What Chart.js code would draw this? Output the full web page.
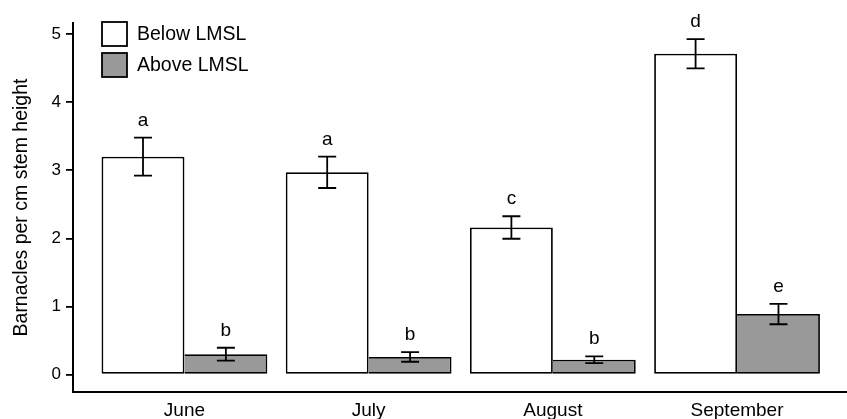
<!DOCTYPE html>
<html>
<head>
<meta charset="utf-8">
<script src="https://cdn.jsdelivr.net/npm/chart.js@4.4.1/dist/chart.umd.min.js"></script>
<style>
html,body{margin:0;padding:0;background:#fff;}
#wrap{width:847px;height:419px;position:relative;}
</style>
</head>
<body>
<div id="wrap"><canvas id="c"></canvas></div>
<script>
// ---- data ----
const months = ['June', 'July', 'August', 'September'];
const seriesNames = ['Below LMSL', 'Above LMSL'];
const below = [3.20, 2.97, 2.16, 4.71];
const belowErr = [0.28, 0.23, 0.165, 0.215];
const above = [0.30, 0.26, 0.22, 0.89];
const aboveErr = [0.095, 0.07, 0.05, 0.15];
const belowLetters = ['a', 'a', 'c', 'd'];
const aboveLetters = ['b', 'b', 'b', 'e'];
const yTicks = [0, 1, 2, 3, 4, 5];

const FONT = "'Liberation Sans', Arial, Helvetica, sans-serif";
Chart.defaults.font.family = FONT;
Chart.defaults.color = '#000';

const errorBars = {
  id: 'errorBars',
  afterDatasetsDraw(chart) {
    const ctx = chart.ctx, y = chart.scales.y;
    const sets = [[below, belowErr, belowLetters], [above, aboveErr, aboveLetters]];
    ctx.save();
    ctx.strokeStyle = '#000';
    ctx.fillStyle = '#000';
    ctx.lineWidth = 1.8;
    ctx.font = '19px ' + FONT;
    ctx.textAlign = 'center';
    ctx.textBaseline = 'alphabetic';
    sets.forEach((s, di) => {
      const meta = chart.getDatasetMeta(di);
      meta.data.forEach((bar, i) => {
        const x = bar.x;
        const top = y.getPixelForValue(s[0][i] + s[1][i]);
        const bot = y.getPixelForValue(s[0][i] - s[1][i]);
        ctx.beginPath();
        ctx.moveTo(x, top); ctx.lineTo(x, bot);
        ctx.moveTo(x - 9, top); ctx.lineTo(x + 9, top);
        ctx.moveTo(x - 9, bot); ctx.lineTo(x + 9, bot);
        ctx.stroke();
        ctx.fillText(s[2][i], x, top - 12);
      });
    });
    ctx.restore();
  }
};

const boxLegend = {
  id: 'boxLegend',
  afterDraw(chart) {
    const ctx = chart.ctx;
    ctx.save();
    ctx.font = '19.5px ' + FONT;
    ctx.textAlign = 'left';
    ctx.textBaseline = 'middle';
    chart.data.datasets.forEach((ds, i) => {
      const bx = 102, by = 22 + i * 31;
      ctx.fillStyle = ds.backgroundColor;
      ctx.fillRect(bx, by, 25, 24);
      ctx.strokeStyle = '#000';
      ctx.lineWidth = 1.8;
      ctx.strokeRect(bx, by, 25, 24);
      ctx.fillStyle = '#000';
      ctx.fillText(ds.label, 137, by + 13);
    });
    ctx.restore();
  }
};

new Chart(document.getElementById('c'), {
  type: 'bar',
  data: {
    datasets: [
      {
        label: seriesNames[0],
        data: months.map((m, i) => ({ x: i, y: below[i] })),
        backgroundColor: '#ffffff',
        borderColor: '#000',
        borderWidth: 1.8,
        borderSkipped: false,
        categoryPercentage: 0.9,
        barPercentage: 1.0
      },
      {
        label: seriesNames[1],
        data: months.map((m, i) => ({ x: i, y: above[i] })),
        backgroundColor: '#999999',
        borderColor: '#000',
        borderWidth: { top: 1.8, right: 1.8, bottom: 1.8, left: 0 },
        borderSkipped: false,
        categoryPercentage: 0.9,
        barPercentage: 1.0
      }
    ]
  },
  options: {
    responsive: true,
    maintainAspectRatio: false,
    animation: false,
    layout: { padding: { top: 23, right: 0, left: 0, bottom: 0 } },
    plugins: { legend: { display: false }, tooltip: { enabled: false } },
    scales: {
      x: {
        type: 'linear',
        min: -0.605,
        max: 3.597,
        offset: false,
        grid: { display: true, drawOnChartArea: false, drawTicks: false },
        border: { display: true, color: '#000', width: 2 },
        afterBuildTicks: s => { s.ticks = months.map((m, i) => ({ value: i })); },
        ticks: {
          callback: v => months[v],
          font: { size: 19 },
          color: '#000',
          padding: 7,
          autoSkip: false,
          maxRotation: 0
        },
        afterFit: s => { s.height = 27; }
      },
      y: {
        min: -0.254,
        max: 5.161,
        afterBuildTicks: s => { s.ticks = yTicks.map(v => ({ value: v })); },
        grid: { drawOnChartArea: false, drawTicks: true, tickLength: 7, color: '#000', lineWidth: 1.8 },
        border: { display: true, color: '#000', width: 2 },
        ticks: { padding: 5, font: { size: 17 }, color: '#000' },
        title: {
          display: true,
          text: 'Barnacles per cm stem height',
          font: { size: 19.5 },
          color: '#000',
          padding: { top: 10, bottom: 0 }
        },
        afterFit: s => { s.width = 73; }
      }
    }
  },
  plugins: [errorBars, boxLegend]
});
</script>
</body>
</html>
